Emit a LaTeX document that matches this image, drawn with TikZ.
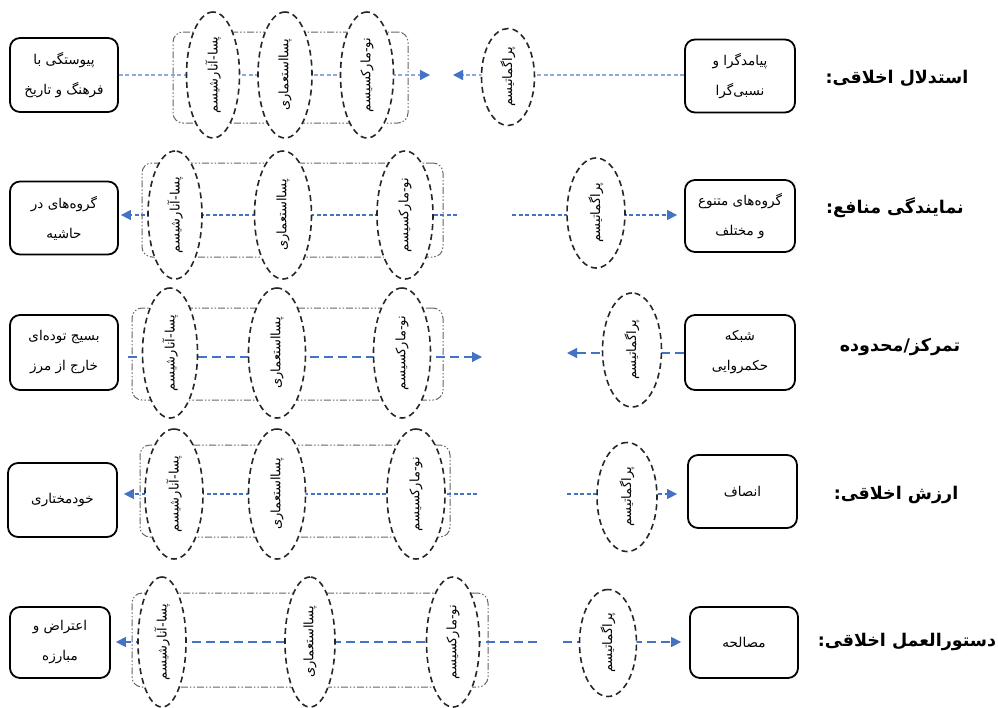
\documentclass[tikz,border=0pt]{standalone}
\usepackage{fontspec}
\newfontfamily\arabicfont[Script=Arabic]{DejaVu Sans}
\TeXXeTstate=1
\usetikzlibrary{shapes.geometric,arrows.meta}
\pgfdeclarelayer{bg}
\pgfsetlayers{bg,main}
\newcommand{\ar}[1]{\beginR #1\endR}
\definecolor{lnblue}{HTML}{4472C4}
\definecolor{lnlight}{HTML}{8EA9DB}
\begin{document}
\begin{tikzpicture}[x=1pt,y=-1pt,
  box/.style={draw, line width=1.8pt, rounded corners=10pt, inner sep=0pt, align=center,
    font=\arabicfont\fontsize{13.5}{30}\selectfont},
  lab/.style={font=\arabicfont\bfseries\fontsize{17.5}{20}\selectfont},
  elli/.style={ellipse, draw=black!85, dash pattern=on 6pt off 4pt, line width=1.6pt,
    fill=white, inner sep=0pt, rotate=90, font=\arabicfont\fontsize{13}{15}\selectfont},
  grp/.style={draw=black!60, rounded corners=10pt, line width=1pt, inner sep=0pt,
    dash pattern=on 7pt off 2pt on 1.5pt off 2pt on 1.5pt off 2pt},
  arr/.style={draw=lnblue, line width=1.3pt, -{Triangle[length=10pt,width=10pt,color=lnblue]}},
  dA/.style={dash pattern=on 4pt off 2.5pt},
  dB/.style={dash pattern=on 9pt off 5pt},
]
\useasboundingbox (0,0) rectangle (998,707);

% ---------- Row 1 ----------
\node[lab] (l1) at (897,78) {\ar{استدلال اخلاقی:}};
\node[box, minimum width=110pt, minimum height=73pt] (r1) at (740,76) {\ar{پیامدگرا و}\\\ar{نسبی‌گرا}};
\node[elli, minimum width=97pt, minimum height=53pt] (p1) at (508,77) {\ar{پراگماتیسم}};
\node[elli, minimum width=126pt, minimum height=53pt] (a1) at (213,75) {\ar{پسا-آنارشیسم}};
\node[elli, minimum width=126pt, minimum height=54pt] (b1) at (285,75) {\ar{پسااستعماری}};
\node[elli, minimum width=126pt, minimum height=53pt] (c1) at (367,75) {\ar{نو-مارکسیسم}};
\node[box, minimum width=108pt, minimum height=74pt] (q1) at (64,75) {\ar{پیوستگی با}\\\ar{فرهنگ و تاریخ}};
\coordinate (t1a) at (453,75);
\coordinate (t1b) at (430,75);

% ---------- Row 2 ----------
\node[lab] (l2) at (895,208) {\ar{نمایندگی منافع:}};
\node[box, minimum width=110pt, minimum height=72pt] (r2) at (740,216) {\ar{گروه‌های متنوع}\\\ar{و مختلف}};
\node[elli, minimum width=110pt, minimum height=58pt] (p2) at (596,213) {\ar{پراگماتیسم}};
\node[elli, minimum width=128pt, minimum height=54pt] (a2) at (175,215) {\ar{پسا-آنارشیسم}};
\node[elli, minimum width=128pt, minimum height=57pt] (b2) at (283,215) {\ar{پسااستعماری}};
\node[elli, minimum width=128pt, minimum height=56pt] (c2) at (405,215) {\ar{نو-مارکسیسم}};
\node[box, minimum width=108pt, minimum height=73pt] (q2) at (64,218) {\ar{گروه‌های در}\\\ar{حاشیه}};
\coordinate (s2a) at (512,215);
\coordinate (s2b) at (457,215);

% ---------- Row 3 ----------
\node[lab] (l3) at (900,347) {\ar{تمرکز/محدوده}};
\node[box, minimum width=110pt, minimum height=75pt] (r3) at (740,352.5) {\ar{شبکه}\\\ar{حکمروایی}};
\node[elli, minimum width=114pt, minimum height=59pt] (p3) at (632,350) {\ar{پراگماتیسم}};
\node[elli, minimum width=130pt, minimum height=55pt] (a3) at (170,353) {\ar{پسا-آنارشیسم}};
\node[elli, minimum width=130pt, minimum height=57pt] (b3) at (277,353) {\ar{پسااستعماری}};
\node[elli, minimum width=130pt, minimum height=57pt] (c3) at (402,353) {\ar{نو-مارکسیسم}};
\node[box, minimum width=108pt, minimum height=75pt] (q3) at (64,352.5) {\ar{بسیج توده‌ای}\\\ar{خارج از مرز}};
\coordinate (t3a) at (567,353);
\coordinate (t3b) at (482,357);

% ---------- Row 4 ----------
\node[lab] (l4) at (896,495) {\ar{ارزش اخلاقی:}};
\node[box, minimum width=109pt, minimum height=73pt] (r4) at (742.5,491.5) {\ar{انصاف}};
\node[elli, minimum width=109pt, minimum height=60pt] (p4) at (627,497) {\ar{پراگماتیسم}};
\node[elli, minimum width=130pt, minimum height=58pt] (a4) at (174,494) {\ar{پسا-آنارشیسم}};
\node[elli, minimum width=130pt, minimum height=57pt] (b4) at (277,494) {\ar{پسااستعماری}};
\node[elli, minimum width=130pt, minimum height=58pt] (c4) at (416,494) {\ar{نو-مارکسیسم}};
\node[box, minimum width=109pt, minimum height=74pt] (q4) at (62.5,500) {\ar{خودمختاری}};
\coordinate (s4a) at (567,494);
\coordinate (s4b) at (477,494);

% ---------- Row 5 ----------
\node[lab] (l5) at (907,642) {\ar{دستورالعمل اخلاقی:}};
\node[box, minimum width=108pt, minimum height=71pt] (r5) at (744,642.5) {\ar{مصالحه}};
\node[elli, minimum width=107pt, minimum height=57pt] (p5) at (608,643) {\ar{پراگماتیسم}};
\node[elli, minimum width=130pt, minimum height=48pt] (a5) at (162,642) {\ar{پسا-آنارشیسم}};
\node[elli, minimum width=130pt, minimum height=50pt] (b5) at (310,642) {\ar{پسااستعماری}};
\node[elli, minimum width=130pt, minimum height=53pt] (c5) at (453,642) {\ar{نو-مارکسیسم}};
\node[box, minimum width=100pt, minimum height=71pt] (q5) at (60,642.5) {\ar{اعتراض و}\\\ar{مبارزه}};
\coordinate (s5a) at (563,642);
\coordinate (s5b) at (537,642);

\begin{pgfonlayer}{bg}
  % group frames
  \node[grp, minimum width=235pt, minimum height=91pt] (g1) at (290.5,77.5) {};
  \node[grp, minimum width=301pt, minimum height=94pt] (g2) at (292.5,210) {};
  \node[grp, minimum width=311pt, minimum height=92pt] (g3) at (287.5,354) {};
  \node[grp, minimum width=310pt, minimum height=92pt] (g4) at (295,491) {};
  \node[grp, minimum width=356pt, minimum height=94pt] (g5) at (310,640) {};
  % connectors
  \draw[arr, dA, draw=lnlight] (r1.west |- t1a) -- (t1a);
  \draw[arr, dA, draw=lnlight] (q1.east |- t1b) -- (t1b);
  \draw[arr, dA] (s2a) -- (r2.west |- s2a) [shorten >=7pt];
  \draw[arr, dA] (s2b) -- (q2.east |- s2b) [shorten >=2pt];
  \draw[arr, dB] (r3.west |- t3a) -- (t3a);
  \draw[arr, dB, shorten <=9pt] (q3.east |- t3b) -- (t3b);
  \draw[arr, dA, shorten >=10pt] (s4a) -- (r4.west |- s4a);
  \draw[arr, dA, shorten >=6pt] (s4b) -- (q4.east |- s4b);
  \draw[arr, dB, shorten >=8pt] (s5a) -- (r5.west |- s5a);
  \draw[arr, dB, shorten >=5pt] (s5b) -- (q5.east |- s5b);
\end{pgfonlayer}
\end{tikzpicture}
\end{document}
